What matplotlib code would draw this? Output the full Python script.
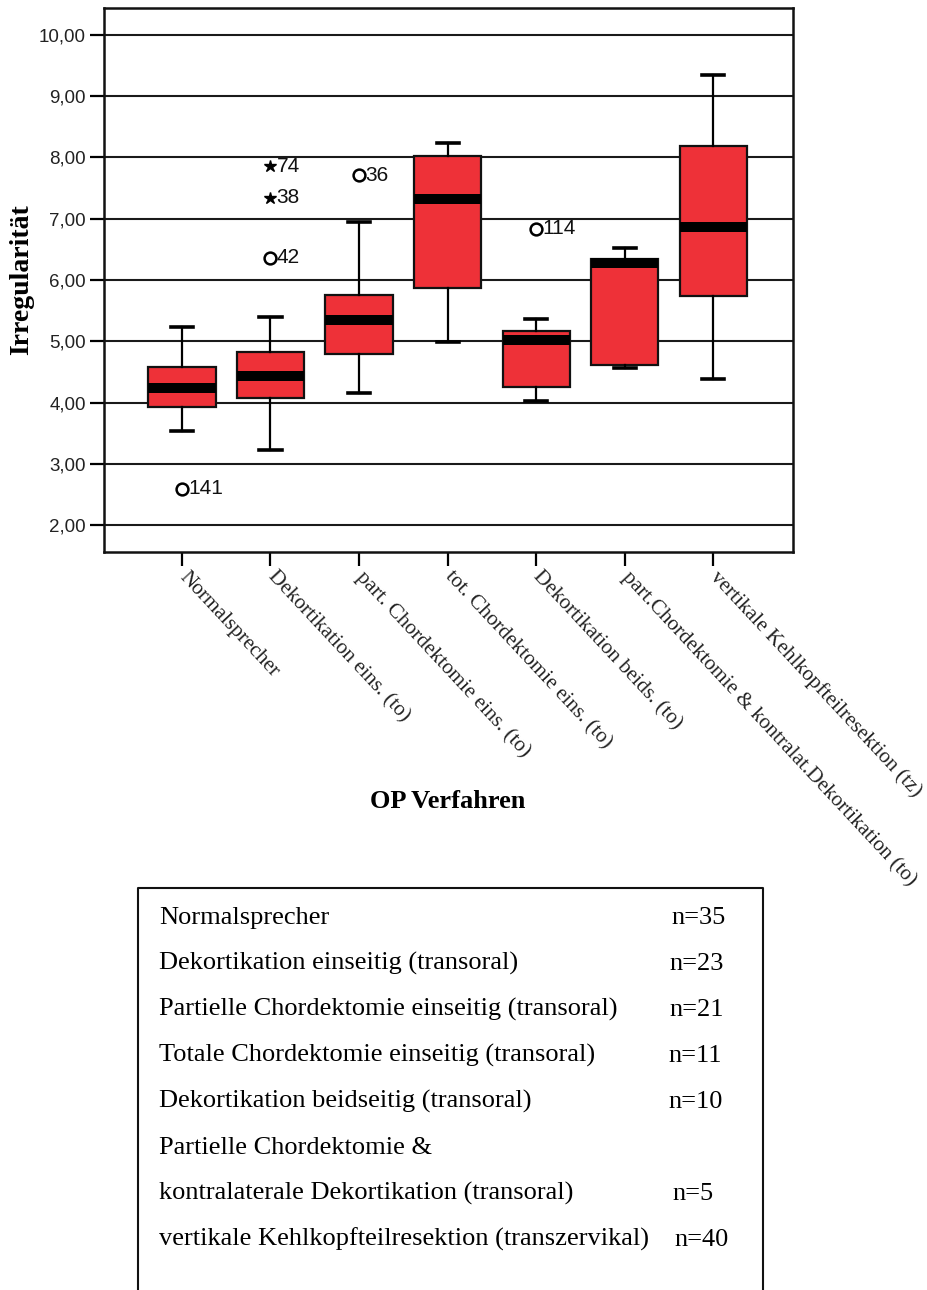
import matplotlib
matplotlib.use("Agg")
import matplotlib.pyplot as plt
from matplotlib.lines import Line2D

W, H = 927, 1290

# Gruppen (Achsenbeschriftung) und Kennwerte der Boxplots
categories = [
    "Normalsprecher",
    "Dekortikation eins. (to)",
    "part. Chordektomie eins. (to)",
    "tot. Chordektomie eins. (to)",
    "Dekortikation beids. (to)",
    "part.Chordektomie & kontralat.Dekortikation (to)",
    "vertikale Kehlkopfteilresektion (tz)",
]
whisker_low = [3.54, 3.22, 4.15, 4.98, 4.03, 4.57, 4.38]
q1 = [3.92, 4.07, 4.80, 5.87, 4.26, 4.61, 5.74]
median = [4.24, 4.43, 5.34, 7.32, 5.02, 6.27, 6.87]
q3 = [4.58, 4.83, 5.76, 8.02, 5.16, 6.35, 8.19]
whisker_high = [5.23, 5.40, 6.94, 8.23, 5.36, 6.52, 9.35]

# Ausreisser: Gruppe, Wert, Fallnummer, Art (o = Ausreisser, * = Extremwert)
out_group = [0, 1, 1, 1, 2, 4]
out_value = [2.59, 6.36, 7.34, 7.86, 7.71, 6.84]
out_case = ["141", "42", "38", "74", "36", "114"]
out_kind = ["o", "o", "*", "*", "o", "o"]

yticks = [2, 3, 4, 5, 6, 7, 8, 9, 10]
ytick_labels = ["2,00", "3,00", "4,00", "5,00", "6,00", "7,00", "8,00", "9,00", "10,00"]

# Fallzahlen der Gruppen
legend_rows = [
    "Normalsprecher",
    "Dekortikation einseitig (transoral)",
    "Partielle Chordektomie einseitig (transoral)",
    "Totale Chordektomie einseitig (transoral)",
    "Dekortikation beidseitig (transoral)",
    "Partielle Chordektomie &",
    "kontralaterale Dekortikation (transoral)",
    "vertikale Kehlkopfteilresektion (transzervikal)",
]
legend_n = ["n=35", "n=23", "n=21", "n=11", "n=10", "", "n=5", "n=40"]

SERIF = "Liberation Serif"
SANS = "Liberation Sans"


def fx(px):
    return px / W


def fy(py):
    return 1 - py / H


fig = plt.figure(figsize=(W / 100, H / 100), dpi=100)
ax = fig.add_axes([fx(104), fy(552), fx(793) - fx(104), fy(8) - fy(552)])

stats = []
for i in range(len(categories)):
    stats.append(dict(med=median[i], q1=q1[i], q3=q3[i],
                      whislo=whisker_low[i], whishi=whisker_high[i], fliers=[]))

positions = list(range(len(categories)))
ax.bxp(stats, positions=positions, widths=0.76, capwidths=0.25,
       patch_artist=True, showfliers=False, zorder=3,
       boxprops=dict(facecolor="#ee3138", edgecolor="#111111", linewidth=1.6),
       medianprops=dict(color="black", linewidth=7.2, solid_capstyle="butt"),
       whiskerprops=dict(color="black", linewidth=1.6),
       capprops=dict(color="black", linewidth=2.6))

for g, v, case, kind in zip(out_group, out_value, out_case, out_kind):
    if kind == "o":
        ax.plot(g, v, "o", ms=8.5, mfc="none", mec="black", mew=1.8, zorder=4)
    else:
        ax.plot(g, v, "*", ms=9, color="black", zorder=4)
    ax.annotate(case, (g, v), xytext=(4.5, 0), textcoords="offset points",
                ha="left", va="center", fontsize=15, family=SANS, color="#111111")

ax.set_xlim(-0.88, 6.90)
ax.set_ylim(1.56, 10.44)
ax.set_yticks(yticks, ytick_labels, fontsize=13.5, family=SANS, color="#222222")
ax.set_xticks(positions, categories, rotation=-47, ha="left", va="center",
              rotation_mode="anchor", fontsize=15.3, family=SERIF, color="#222222")
ax.tick_params(axis="both", length=10, width=1.6, direction="out", pad=3)
ax.tick_params(axis="x", pad=6)
ax.grid(axis="y", color="#1a1a1a", linewidth=1.5, zorder=0)
ax.set_axisbelow(True)
for sp in ax.spines.values():
    sp.set_linewidth(1.8)
    sp.set_color("#111111")

fig.text(fx(22), fy(280), "Irregularität", rotation=90, ha="center", va="center",
         fontsize=20, fontweight="bold", family=SERIF)
fig.text(fx(448), fy(802), "OP Verfahren", ha="center", va="center",
         fontsize=19, fontweight="bold", family=SERIF)

# Kasten mit den Fallzahlen (unten offen)
fig.add_artist(Line2D([fx(138), fx(138), fx(763), fx(763)],
                      [fy(1300), fy(888), fy(888), fy(1300)],
                      color="#111111", linewidth=1.5))
n_x = [671, 669, 669, 668, 668, 0, 672, 674]
for k, (row, n) in enumerate(zip(legend_rows, legend_n)):
    base = 924 + 46 * k
    fig.text(fx(159), fy(base), row, ha="left", va="baseline",
             fontsize=19, family=SERIF)
    if n:
        fig.text(fx(n_x[k]), fy(base), n, ha="left", va="baseline",
                 fontsize=19, family=SERIF)

fig.savefig("out.png", dpi=100)
